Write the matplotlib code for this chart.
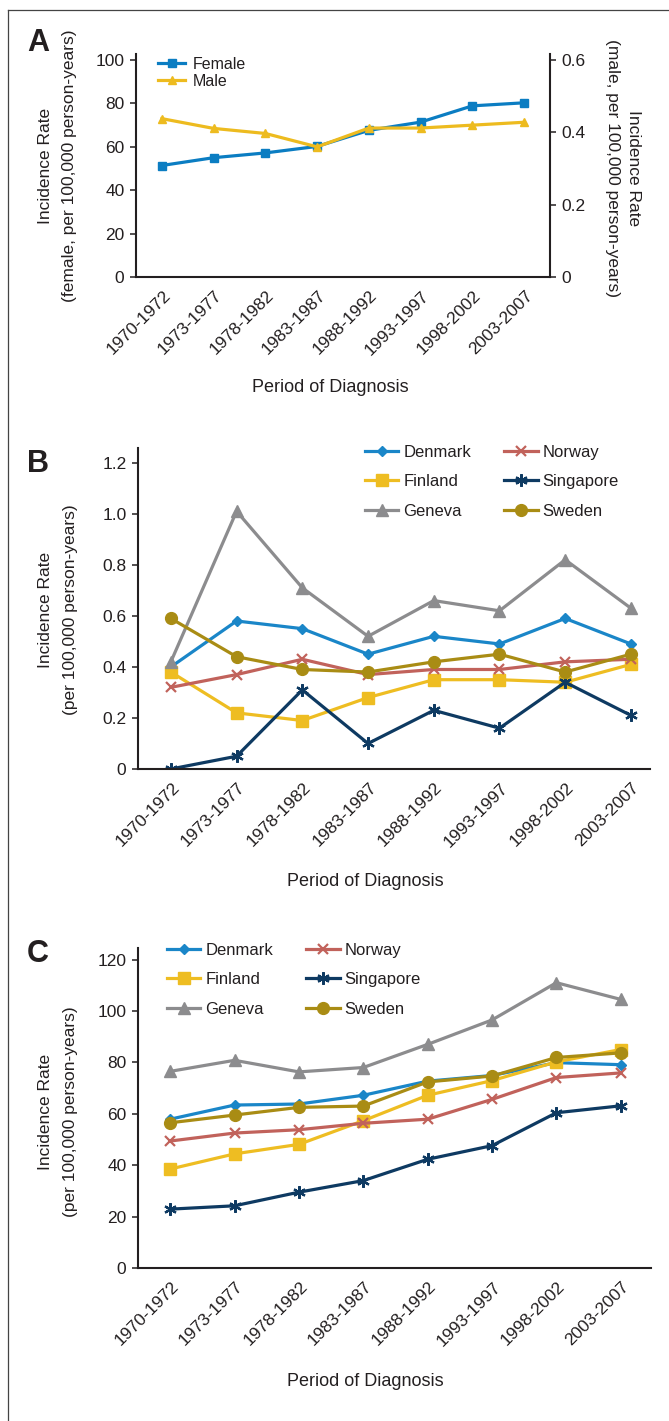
import matplotlib
matplotlib.use("Agg")
import matplotlib.pyplot as plt
from matplotlib.lines import Line2D
from matplotlib.transforms import ScaledTranslation

W, H = 669, 1421
plt.rcParams['font.family'] = ['Liberation Sans', 'DejaVu Sans']

periods = ["1970-1972", "1973-1977", "1978-1982", "1983-1987",
           "1988-1992", "1993-1997", "1998-2002", "2003-2007"]

# panel A
female = [51.4, 55.0, 57.2, 60.2, 67.6, 71.4, 78.9, 80.3]
male = [0.438, 0.411, 0.397, 0.360, 0.412, 0.412, 0.420, 0.428]

# panel B
b_denmark = [0.40, 0.58, 0.55, 0.45, 0.52, 0.49, 0.59, 0.49]
b_finland = [0.38, 0.22, 0.19, 0.28, 0.35, 0.35, 0.34, 0.41]
b_geneva = [0.42, 1.01, 0.71, 0.52, 0.66, 0.62, 0.82, 0.63]
b_norway = [0.32, 0.37, 0.43, 0.37, 0.39, 0.39, 0.42, 0.43]
b_singapore = [0.00, 0.05, 0.31, 0.10, 0.23, 0.16, 0.34, 0.21]
b_sweden = [0.59, 0.44, 0.39, 0.38, 0.42, 0.45, 0.38, 0.45]

# panel C
c_denmark = [57.9, 63.4, 63.8, 67.2, 72.7, 74.9, 79.9, 79.1]
c_finland = [38.5, 44.4, 48.1, 57.3, 67.2, 72.9, 80.2, 85.0]
c_geneva = [76.5, 80.8, 76.3, 78.0, 87.0, 96.5, 111.0, 104.5]
c_norway = [49.4, 52.5, 53.8, 56.3, 57.9, 65.6, 74.1, 75.9]
c_singapore = [22.9, 24.2, 29.5, 34.0, 42.3, 47.6, 60.4, 63.1]
c_sweden = [56.5, 59.5, 62.5, 63.0, 72.4, 74.7, 81.9, 83.7]

countries = ["Denmark", "Finland", "Geneva", "Norway", "Singapore", "Sweden"]
colors = {"Denmark": "#1a86c8", "Finland": "#eebd22", "Geneva": "#8c8c8e",
          "Norway": "#c1625b", "Singapore": "#0e3a62", "Sweden": "#a98c14"}
markers = {"Denmark": ("D", 5.5, 1), "Finland": ("s", 8.5, 1), "Geneva": ("^", 8.5, 1),
           "Norway": ("x", 7.5, 1.6), "Singapore": ((6, 2, 0), 9, 1.6), "Sweden": ("o", 8.5, 1)}

ink = "#231f20"
fig = plt.figure(figsize=(W / 100, H / 100), dpi=100)

# frame
fig.add_artist(Line2D([8 / W, 8 / W], [0, 1 - 10 / H], transform=fig.transFigure, color="#444", lw=0.9))
fig.add_artist(Line2D([8 / W, 1], [1 - 10 / H, 1 - 10 / H], transform=fig.transFigure, color="#444", lw=0.9))


def px_axes(left, top, right, bottom):
    return fig.add_axes([left / W, 1 - bottom / H, (right - left) / W, (bottom - top) / H])


def ftext(x, y, s, **kw):
    kw.setdefault("color", ink)
    return fig.text(x / W, 1 - y / H, s, **kw)


def style(ax):
    for s in ["top", "right"]:
        ax.spines[s].set_visible(False)
    for s in ["left", "bottom"]:
        ax.spines[s].set_linewidth(1.5)
        ax.spines[s].set_color(ink)
    ax.tick_params(axis="y", direction="out", length=4.3, width=1.1, pad=4, labelsize=12.5, colors=ink)
    ax.tick_params(axis="x", length=0, pad=6, labelsize=12.5, colors=ink)
    ax.set_xticks(range(len(periods)))
    ax.set_xticklabels(periods, rotation=45, ha="right", va="center", rotation_mode="anchor")
    shift = ScaledTranslation(6 / 100, -8 / 100, fig.dpi_scale_trans)
    for lbl in ax.get_xticklabels():
        lbl.set_transform(lbl.get_transform() + shift)


def fmt(v):
    return "0" if v == 0 else ("%g" % v if v >= 2 else "%.1f" % v)


def ylabel2(xc1, xc2, yc, line1, line2, rot=90):
    ftext(xc1, yc, line1, rotation=rot, ha="center", va="center", fontsize=12.5)
    ftext(xc2, yc, line2, rotation=rot, ha="center", va="center", fontsize=12.5)


# ---------------- panel A ----------------
axA = px_axes(136, 54, 550, 277)
style(axA)
axA.set_xlim(-0.5, 7.5)
axA.set_ylim(0, 102.8)
axA.set_yticks(range(0, 101, 20))
lf, = axA.plot(range(8), female, color="#0b7dc2", lw=2.3, marker="s", ms=6, label="Female")
axR = axA.twinx()
axR.set_position(axA.get_position())
for s in ["top", "left", "bottom"]:
    axR.spines[s].set_visible(False)
axR.spines["right"].set_linewidth(1.5)
axR.spines["right"].set_color(ink)
axR.set_ylim(0, 0.6 * 1.028)
axR.set_yticks([0, 0.2, 0.4, 0.6])
axR.set_yticklabels([fmt(v) for v in [0, 0.2, 0.4, 0.6]])
axR.tick_params(axis="y", direction="out", length=4.3, width=1.1, pad=4, labelsize=12.5, colors=ink)
lm, = axR.plot(range(8), male, color="#edbb1f", lw=2.3, marker="^", ms=5.5, label="Male")
leg = axA.legend([lf, lm], ["Female", "Male"], loc="upper left",
                 bbox_to_anchor=(158 / W, 1 - 57 / H), bbox_transform=fig.transFigure,
                 frameon=False, fontsize=11.5, handlelength=1.7, handletextpad=0.5,
                 labelspacing=0.12, borderpad=0, borderaxespad=0)
for t in leg.get_texts():
    t.set_color(ink)

ylabel2(45, 69.5, 166, "Incidence Rate", "(female, per 100,000 person-years)")
ylabel2(633.5, 612.5, 168, "Incidence Rate", "(male, per 100,000 person-years)", rot=270)
ftext(330, 388, "Period of Diagnosis", ha="center", va="center", fontsize=13)
ftext(27, 28, "A", ha="left", va="top", fontsize=22, fontweight="bold")


def country_panel(ax, data, ylim, yticks, leg_xy):
    style(ax)
    handles = []
    for name in countries:
        m, ms, mew = markers[name]
        h, = ax.plot(range(8), data[name], color=colors[name], lw=2.3, marker=m, ms=ms,
                     mew=mew, mec=colors[name], label=name)
        handles.append(h)
    ax.set_ylim(*ylim)
    ax.set_yticks(yticks)
    ax.set_yticklabels([fmt(v) for v in yticks])
    leg = ax.legend(handles, countries, ncol=2, loc="upper left",
                    bbox_to_anchor=(leg_xy[0] / W, 1 - leg_xy[1] / H), bbox_transform=fig.transFigure,
                    frameon=False, fontsize=12, handlelength=2.0, handletextpad=0.3,
                    labelspacing=0.86, columnspacing=2.0, borderpad=0, borderaxespad=0)
    for t in leg.get_texts():
        t.set_color(ink)


# ---------------- panel B ----------------
axB = px_axes(138, 448, 650, 769)
axB.set_xlim(-0.5, 7.29)
country_panel(axB, {"Denmark": b_denmark, "Finland": b_finland, "Geneva": b_geneva,
                    "Norway": b_norway, "Singapore": b_singapore, "Sweden": b_sweden},
              (0, 1.258), [0, 0.2, 0.4, 0.6, 0.8, 1.0, 1.2], (365, 445))
ylabel2(45, 70.5, 610, "Incidence Rate", "(per 100,000 person-years)")
ftext(365, 882, "Period of Diagnosis", ha="center", va="center", fontsize=13)
ftext(27, 449, "B", ha="left", va="top", fontsize=22, fontweight="bold")

# ---------------- panel C ----------------
axC = px_axes(138, 948, 651, 1268)
axC.set_xlim(-0.5, 7.47)
country_panel(axC, {"Denmark": c_denmark, "Finland": c_finland, "Geneva": c_geneva,
                    "Norway": c_norway, "Singapore": c_singapore, "Sweden": c_sweden},
              (0, 124.5), list(range(0, 121, 20)), (167, 943))
ylabel2(45, 70.5, 1112, "Incidence Rate", "(per 100,000 person-years)")
ftext(365, 1382, "Period of Diagnosis", ha="center", va="center", fontsize=13)
ftext(27, 939, "C", ha="left", va="top", fontsize=22, fontweight="bold")

fig.savefig("out.png", dpi=100)
